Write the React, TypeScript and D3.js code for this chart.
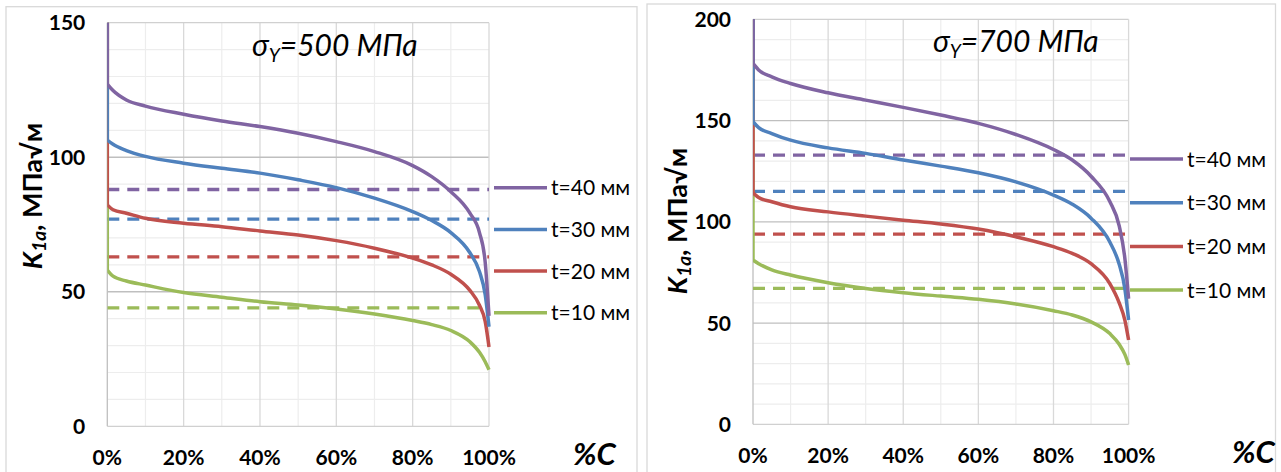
import React from "react";
import * as d3 from "d3";

// ---------- data ----------
const PCT = [0, 1.5, 5, 10, 20, 30, 40, 50, 60, 70, 80, 85, 90, 95, 97.5, 99, 100];
const SERIES_NAMES = ["t=40 мм", "t=30 мм", "t=20 мм", "t=10 мм"];
const COLORS = ["#8064A2", "#4F81BD", "#C0504D", "#9BBB59"];

// σY = 500 MPa
const K500_T40 = [127.2, 124.8, 121.3, 119.0, 116.0, 113.5, 111.4, 108.9, 105.8, 102.1, 96.9, 92.8, 87.2, 79.2, 72, 61, 41];
const K500_T30 = [106.4, 104.8, 102.5, 100.3, 97.8, 95.9, 94.1, 91.6, 88.7, 84.8, 79.8, 76.5, 72.0, 64.5, 57.5, 49, 37];
const K500_T20 = [82.3, 80.5, 79.2, 77.3, 75.5, 74.2, 72.6, 71.1, 69.0, 66.2, 62.5, 60.0, 56.5, 50.5, 45, 39, 29.5];
const K500_T10 = [58.1, 55.8, 54.0, 52.5, 49.7, 48.0, 46.3, 45.1, 43.6, 41.7, 39.3, 37.8, 35.6, 31.4, 27.5, 24, 21];
const K500_DASH = [88, 77, 63, 44];

// σY = 700 MPa
const K700_T40 = [178.2, 175, 171.6, 168.3, 163.7, 160.1, 156.5, 152.7, 148.6, 143.1, 135.7, 130.5, 122.5, 110, 98, 82, 62];
const K700_T30 = [149.4, 146.5, 143.6, 140.3, 136.5, 133.8, 130.5, 127.5, 124.2, 119.7, 113.2, 108.7, 101.8, 90, 79, 67, 51.5];
const K700_T20 = [114.3, 112, 109.9, 107.4, 104.9, 102.8, 100.8, 98.9, 96.4, 92.6, 87.7, 84.4, 79.3, 69.5, 60, 51.5, 41.6];
const K700_T10 = [81.1, 79.3, 76.3, 73.7, 69.9, 67.1, 65, 63.3, 61.7, 59.4, 56.1, 54, 50.6, 44.8, 39.5, 34.5, 29.3];
const K700_DASH = [132.9, 115, 93.9, 67.1];

const X_TICKS = [0, 20, 40, 60, 80, 100];
const Y_TICKS_500 = [0, 50, 100, 150];
const Y_TICKS_700 = [0, 50, 100, 150, 200];

const FONT = "Lato, 'Noto Sans', 'Open Sans', sans-serif";

type Panel = {
  id: string;
  title: string;
  yMax: number;
  yTicks: number[];
  series: number[][];
  dashes: number[];
  x0: number; x1: number; yTop: number; yBot: number;
  border: [number, number, number];
  titleX: number; titleY: number;
  labelX: number; labelY: number;
  pctX: number; pctY: number;
  legX: number; legY: number; legStep: number;
};

const PANELS: Panel[] = [
  {
    id: "p500", title: "=500 МПа", yMax: 150, yTicks: Y_TICKS_500,
    series: [K500_T40, K500_T30, K500_T20, K500_T10], dashes: K500_DASH,
    x0: 107.3, x1: 489, yTop: 22.7, yBot: 426.3, border: [6, 6.7, 637],
    titleX: 252, titleY: 56, labelX: 42, labelY: 196, pctX: 573, pctY: 465,
    legX: 494, legY: 187.7, legStep: 41.7,
  },
  {
    id: "p700", title: "=700 МПа", yMax: 200, yTicks: Y_TICKS_700,
    series: [K700_T40, K700_T30, K700_T20, K700_T10], dashes: K700_DASH,
    x0: 753, x1: 1128.6, yTop: 19.3, yBot: 424.3, border: [647, 4, 1275.5],
    titleX: 933, titleY: 51.7, labelX: 687, labelY: 221, pctX: 1232, pctY: 463,
    legX: 1130, legY: 159, legStep: 43.7,
  },
];

function ChartPanel({ p }: { p: Panel }) {
  const x = d3.scaleLinear().domain([0, 100]).range([p.x0, p.x1]);
  const y = d3.scaleLinear().domain([0, p.yMax]).range([p.yBot, p.yTop]);
  const line = d3.line<number>().x((_, i) => x(PCT[i])).y((v) => y(v)).curve(d3.curveMonotoneX);
  const minorY = d3.range(0, p.yMax + 0.001, 10).filter((v) => v % 50 !== 0);
  const minorX = d3.range(10, 100, 20);
  const majorX = [20, 40, 60, 80];
  const majorY = p.yTicks.filter((v) => v > 0 && v < p.yMax);
  const order = [3, 2, 1, 0];
  const clipId = "clip-" + p.id;
  return (
    <g>
      <defs>
        <clipPath id={clipId}>
          <rect x={p.x0} y={p.yTop - 1} width={p.x1 - p.x0 + 12} height={p.yBot - p.yTop + 12} />
        </clipPath>
      </defs>
      <rect x={p.border[0]} y={p.border[1]} width={p.border[2] - p.border[0]} height={480} fill="#fff" stroke="#d9d9d9" strokeWidth={1.3} />
      {minorY.map((v) => (
        <line key={"my" + v} x1={p.x0} x2={p.x1} y1={y(v)} y2={y(v)} stroke="#ededed" strokeWidth={1.2} />
      ))}
      {minorX.map((v) => (
        <line key={"mx" + v} x1={x(v)} x2={x(v)} y1={p.yTop} y2={p.yBot} stroke="#ededed" strokeWidth={1.2} />
      ))}
      {majorX.map((v) => (
        <line key={"Mx" + v} x1={x(v)} x2={x(v)} y1={p.yTop} y2={p.yBot} stroke="#d9d9d9" strokeWidth={1.3} />
      ))}
      {majorY.map((v) => (
        <line key={"My" + v} x1={p.x0} x2={p.x1} y1={y(v)} y2={y(v)} stroke="#bfbfbf" strokeWidth={1.3} />
      ))}
      <line x1={p.x0} x2={p.x1} y1={y(p.yMax)} y2={y(p.yMax)} stroke="#d0d0d0" strokeWidth={1.3} />
      <line x1={x(100)} x2={x(100)} y1={p.yTop} y2={p.yBot} stroke="#d9d9d9" strokeWidth={1.3} />
      <line x1={p.x0} x2={p.x1} y1={y(0)} y2={y(0)} stroke="#d0d0d0" strokeWidth={1.3} />
      <line x1={p.x0} x2={p.x0} y1={p.yTop} y2={p.yBot} stroke="#bfbfbf" strokeWidth={1.3} />

      <g clipPath={`url(#${clipId})`}>
        {order.map((i) => (
          <line key={"d" + i} x1={x(0)} x2={x(100)} y1={y(p.dashes[i])} y2={y(p.dashes[i])}
            stroke={COLORS[i]} strokeWidth={3.3} strokeDasharray="12,8" />
        ))}
        {order.map((i) => {
          const d = line(p.series[i]) || "";
          return (
            <path key={"s" + i} d={`M${x(0)},${y(p.yMax)}L` + d.slice(1)} fill="none" stroke={COLORS[i]} strokeWidth={3.5} />
          );
        })}
      </g>

      {p.yTicks.map((v) => (
        <text key={"yt" + v} x={p.x0 - 22} y={y(v)} dy="0.36em" textAnchor="end" fontFamily={FONT} fontWeight={700} fontSize={21} fill="#000">{v}</text>
      ))}
      {X_TICKS.map((v) => (
        <text key={"xt" + v} x={x(v)} y={p.yBot + 39} textAnchor="middle" fontFamily={FONT} fontWeight={700} fontSize={21} fill="#000">{v + "%"}</text>
      ))}
      <text x={p.pctX} y={p.pctY} fontFamily={FONT} fontWeight={700} fontStyle="italic" fontSize={31} fill="#000">%C</text>

      <text x={p.titleX} y={p.titleY} fontFamily={FONT} fontStyle="italic" fontSize={30} fill="#000">
        <tspan>σ</tspan>
        <tspan fontSize={19} dy={6}>Y</tspan>
        <tspan dy={-6}>{p.title}</tspan>
      </text>

      <text transform={`translate(${p.labelX},${p.labelY}) rotate(-90)`} textAnchor="middle" fontFamily={FONT} fontWeight={700} fontSize={27} fill="#000">
        <tspan fontStyle="italic">K</tspan>
        <tspan fontStyle="italic" fontSize={19} dy={4}>1a</tspan>
        <tspan dy={-4}>, МПа√м</tspan>
      </text>

      {SERIES_NAMES.map((n, i) => (
        <g key={"lg" + i}>
          <line x1={p.legX} x2={p.legX + 53} y1={p.legY + i * p.legStep} y2={p.legY + i * p.legStep} stroke={COLORS[i]} strokeWidth={3.5} />
          <text x={p.legX + 57} y={p.legY + i * p.legStep} dy="0.36em" fontFamily={FONT} fontSize={21} fill="#000">{n}</text>
        </g>
      ))}
    </g>
  );
}

export default function App() {
  return (
    <svg width={1281} height={472} style={{ position: "absolute", left: 0, top: 0, display: "block", background: "#fff" }}>
      <rect x={0} y={0} width={1281} height={472} fill="#fff" />
      {PANELS.map((p, i) => (
        <ChartPanel key={i} p={p} />
      ))}
    </svg>
  );
}
